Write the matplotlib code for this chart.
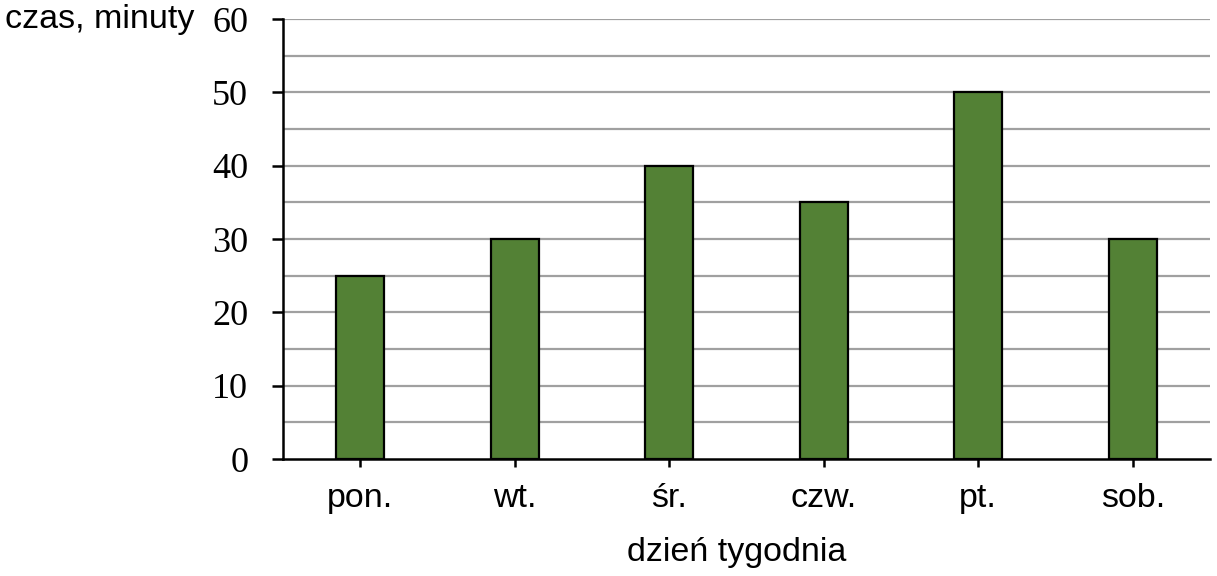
import matplotlib
matplotlib.use("Agg")
import matplotlib.pyplot as plt
import numpy as np

days = ["pon.", "wt.", "śr.", "czw.", "pt.", "sob."]
minutes = [25, 30, 40, 35, 50, 30]
y_ticks = [0, 10, 20, 30, 40, 50, 60]
y_grid = [5, 10, 15, 20, 25, 30, 35, 40, 45, 50, 55, 60]

fig = plt.figure(figsize=(12.17, 5.76), dpi=100)
ax = fig.add_axes([283/1217, 1 - 459/576, (1210 - 283)/1217, (459 - 19)/576])

x = np.arange(len(days))
for g in y_grid:
    ax.axhline(g, color="#a0a0a0", lw=1.6, zorder=0)
ax.bar(x, minutes, width=0.31, color="#538135", edgecolor="black", linewidth=1.6, zorder=2)

ax.set_xlim(-0.5, len(days) - 0.5)
ax.set_ylim(0, 60)
ax.set_yticks(y_ticks)
ax.set_yticklabels([str(v) for v in y_ticks], fontfamily="Liberation Serif", fontsize=26)
ax.set_xticks(x)
ax.set_xticklabels(days, fontfamily="Liberation Sans", fontsize=24.5)

for s in ["top", "right"]:
    ax.spines[s].set_visible(False)
for s in ["left", "bottom"]:
    ax.spines[s].set_linewidth(1.8)
    ax.spines[s].set_zorder(3)

ax.tick_params(axis="y", direction="out", length=8, width=1.8, pad=17)
ax.tick_params(axis="x", direction="out", length=5.5, width=1.8, pad=11.5)

ax.set_xlabel("dzień tygodnia", fontfamily="Liberation Sans", fontsize=24.5)
ax.xaxis.set_label_coords((737 - 283) / (1210 - 283), -(553 - 459) / (459 - 19))
ax.xaxis.label.set_va("center")

fig.text(5/1217, 1 - 28/576, "czas, minuty", fontfamily="Liberation Sans", fontsize=24.5,
         ha="left", va="baseline")

fig.savefig("out.png", dpi=100)
